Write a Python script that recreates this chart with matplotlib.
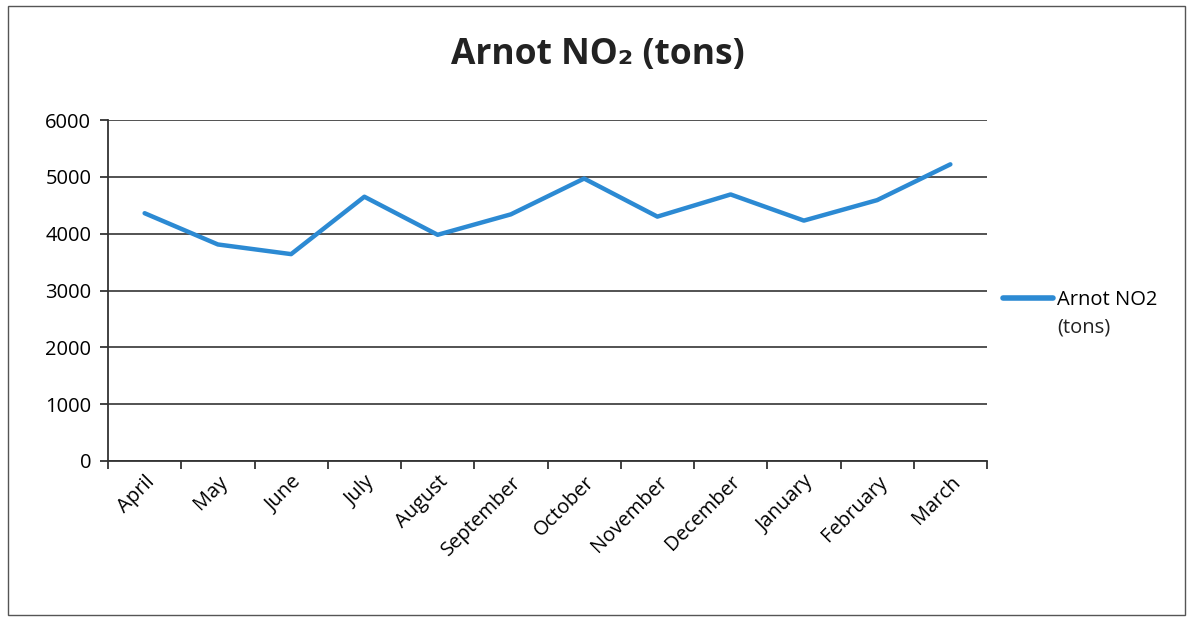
import matplotlib.pyplot as plt
import numpy
from matplotlib.patches import Rectangle

MONTHS = ["April", "May", "June", "July", "August", "September", "October",
          "November", "December", "January", "February", "March"]
NO2_TONS = [4360, 3810, 3640, 4650, 3980, 4340, 4970, 4300, 4690, 4230, 4590, 5220]
Y_TICKS = [0, 1000, 2000, 3000, 4000, 5000, 6000]
LINE_COLOR = "#2c8ad3"

plt.rcParams['font.family'] = ['Open Sans', 'DejaVu Sans']

fig = plt.figure(figsize=(11.87, 6.17), dpi=100)
axes = fig.add_axes([108 / 1187, 1 - 461 / 617, (987 - 108) / 1187, (461 - 120) / 617])

x = numpy.arange(len(MONTHS))
axes.plot(x, NO2_TONS, color=LINE_COLOR, linewidth=3.2, solid_capstyle='round',
          label="Arnot NO2")

axes.set_xlim(-0.5, len(MONTHS) - 0.5)
axes.set_ylim(0, 6000)
axes.set_yticks(Y_TICKS)
axes.set_yticklabels([str(v) for v in Y_TICKS], fontsize=14.5)
axes.yaxis.grid(True, color="#444444", linewidth=1.3)
axes.set_axisbelow(True)

# category labels at centres, tick marks at boundaries (like the spreadsheet chart)
axes.set_xticks(x)
axes.set_xticklabels(MONTHS, rotation=45, ha='right', rotation_mode='anchor', fontsize=14.5)
axes.tick_params(axis='x', length=0, pad=8)
axes.set_xticks(numpy.arange(-0.5, len(MONTHS), 1.0), minor=True)
axes.tick_params(axis='x', which='minor', length=6, width=1.3, color="#333333")
axes.tick_params(axis='y', length=6, width=1.3, color="#333333", pad=6)

for side in ['top', 'right']:
    axes.spines[side].set_visible(False)
axes.spines['left'].set_color("#333333")
axes.spines['left'].set_linewidth(1.3)
axes.spines['bottom'].set_color("#333333")
axes.spines['bottom'].set_linewidth(1.3)

fig.text(598 / 1187, 1 - 55 / 617, "Arnot NO\u2082 (tons)", fontsize=25.5, fontweight='bold',
         ha='center', va='center', color="#222222")

legend = axes.legend(loc='center left', bbox_to_anchor=(1.018, 1 - (300 - 120) / 341),
                     frameon=False, fontsize=14.5, handlelength=2.5, handletextpad=0.2,
                     borderaxespad=0, borderpad=0)
for line in legend.get_lines():
    line.set_linewidth(4)
fig.text(1057 / 1187, 1 - 327 / 617, "(tons)", fontsize=14.5, ha='left', va='center',
         color="#222222")

fig.patches.append(Rectangle((8 / 1187, 2 / 617), 1 - 10 / 1187, 1 - 8 / 617,
                             transform=fig.transFigure, fill=False, edgecolor="#555555",
                             linewidth=1))

plt.savefig("out.png", dpi=100)
plt.close()
